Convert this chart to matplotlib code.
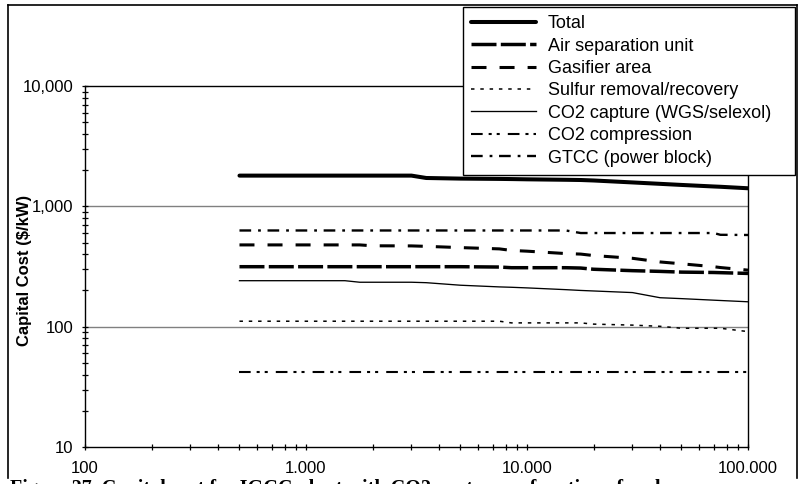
import matplotlib
matplotlib.use("Agg")
import matplotlib.pyplot as plt
from matplotlib.lines import Line2D
from matplotlib.ticker import FixedLocator, LogLocator, NullFormatter

plt.rcParams["font.family"] = ["Liberation Sans", "DejaVu Sans"]
plt.rcParams["lines.scale_dashes"] = False

# Plant size (x) and capital cost components ($/kW)
plant_size = [500, 1000, 1500, 1750, 2000, 3000, 3500, 5000, 7500, 8500,
              10000, 15000, 17500, 20000, 30000, 40000, 50000, 70000, 75000, 100000]

total = [1800, 1800, 1800, 1800, 1800, 1800, 1720, 1700, 1690, 1685,
         1677, 1662, 1655, 1640, 1580, 1538, 1506, 1462, 1454, 1413]
air_separation = [315, 315, 315, 315, 315, 315, 315, 315, 313, 309,
                  309, 309, 307, 300, 292, 288, 284, 282, 281, 277]
gasifier = [478, 478, 478, 478, 470, 469, 465, 454, 443, 430,
            424, 405, 401, 390, 370, 345, 333, 315, 310, 295]
sulfur = [111, 111, 111, 111, 111, 111, 111, 111, 111, 107.5,
          107.5, 107.5, 107.5, 105, 103, 100.7, 97, 97, 97, 91]
co2_capture = [241, 241, 241, 234, 234, 234, 232, 221, 214, 212.5,
               210, 203, 200, 198, 192, 174, 171, 166, 165, 161]
co2_compression = [42] * 20
gtcc = [630, 630, 630, 630, 630, 630, 630, 630, 630, 630,
        630, 630, 600, 600, 600, 600, 600, 600, 580, 578]

series_labels = ["Total", "Air separation unit", "Gasifier area",
                 "Sulfur removal/recovery", "CO2 capture (WGS/selexol)",
                 "CO2 compression", "GTCC (power block)"]

x_ticks = [100, 1000, 10000, 100000]
x_tick_labels = ["100", "1.000", "10.000", "100.000"]
y_ticks = [10, 100, 1000, 10000]
y_tick_labels = ["10", "100", "1,000", "10,000"]

W, H = 800, 484
fig = plt.figure(figsize=(W / 100, H / 100), dpi=100)

# outer chart frame (bottom edge hidden behind the caption)
frame_kw = dict(color="black", lw=1.2, transform=fig.transFigure)
fig.add_artist(Line2D([8 / W, 8 / W], [1 - 5 / H, 1 - 478 / H], **frame_kw))
fig.add_artist(Line2D([797 / W, 797 / W], [1 - 5 / H, 1 - 478 / H], **frame_kw))
fig.add_artist(Line2D([8 / W, 797 / W], [1 - 5 / H, 1 - 5 / H], **frame_kw))

ax = fig.add_axes([85 / W, 1 - 447 / H, (748 - 85) / W, (447 - 86) / H])
ax.set_xscale("log")
ax.set_yscale("log")
ax.set_xlim(100, 100000)
ax.set_ylim(10, 10000)

styles = [
    dict(lw=2.9, ls="-", solid_capstyle="round"),
    dict(lw=2.5, ls=(0, (18, 3.1))),
    dict(lw=2.2, ls=(0, (10.8, 9.4))),
    dict(lw=1.1, ls=(0, (2.5, 4.2))),
    dict(lw=0.95, ls="-"),
    dict(lw=1.5, ls=(0, (8.4, 4.3, 2.2, 3.6, 2.2, 5.8))),
    dict(lw=1.7, ls=(0, (8.4, 5.0, 2.0, 4.8))),
]
series = [total, air_separation, gasifier, sulfur, co2_capture, co2_compression, gtcc]
handles = []
for vals, lab, st in zip(series, series_labels, styles):
    h, = ax.plot(plant_size, vals, color="black", label=lab, zorder=3, **st)
    handles.append(h)

# horizontal gridlines
for gy in [100, 1000]:
    ax.axhline(gy, color="#808080", lw=1.0, zorder=1)

for s in ax.spines.values():
    s.set_color("black")
    s.set_linewidth(1.0)

ax.xaxis.set_major_locator(FixedLocator(x_ticks))
ax.set_xticklabels(x_tick_labels)
ax.yaxis.set_major_locator(FixedLocator(y_ticks))
ax.set_yticklabels(y_tick_labels)
ax.xaxis.set_minor_locator(LogLocator(base=10, subs=range(2, 10)))
ax.yaxis.set_minor_locator(LogLocator(base=10, subs=range(2, 10)))
ax.xaxis.set_minor_formatter(NullFormatter())
ax.yaxis.set_minor_formatter(NullFormatter())
ax.tick_params(which="both", direction="inout", length=4.5, width=0.9,
               labelsize=12, colors="black")
ax.tick_params(axis="x", which="both", pad=8)
ax.tick_params(axis="y", which="both", pad=6)

ax.set_ylabel("Capital Cost ($/kW)", fontsize=12, fontweight="bold")
ax.yaxis.set_label_coords(-0.080, 0.49)

leg = fig.legend(handles=handles, loc="upper left",
                 bbox_to_anchor=(463 / W, 1 - 7 / H, (795 - 463) / W, 0.0),
                 mode="expand", frameon=True, fancybox=False, shadow=False,
                 fontsize=13, handlelength=3.6, handletextpad=0.65,
                 labelspacing=0.3, borderpad=0.45, borderaxespad=0.0)
leg.get_frame().set_edgecolor("black")
leg.get_frame().set_linewidth(1.0)
leg.get_frame().set_facecolor("white")
leg.get_frame().set_alpha(1)
leg.set_zorder(5)

fig.text(10 / W, 1 - 479 / H,
         "Figure 27. Capital cost for IGCC plant with CO2 capture as function of scale",
         family=["Liberation Serif", "DejaVu Serif"], fontweight="bold",
         fontsize=14.5, va="top", ha="left", color="black")

fig.savefig("out.png", dpi=100)
